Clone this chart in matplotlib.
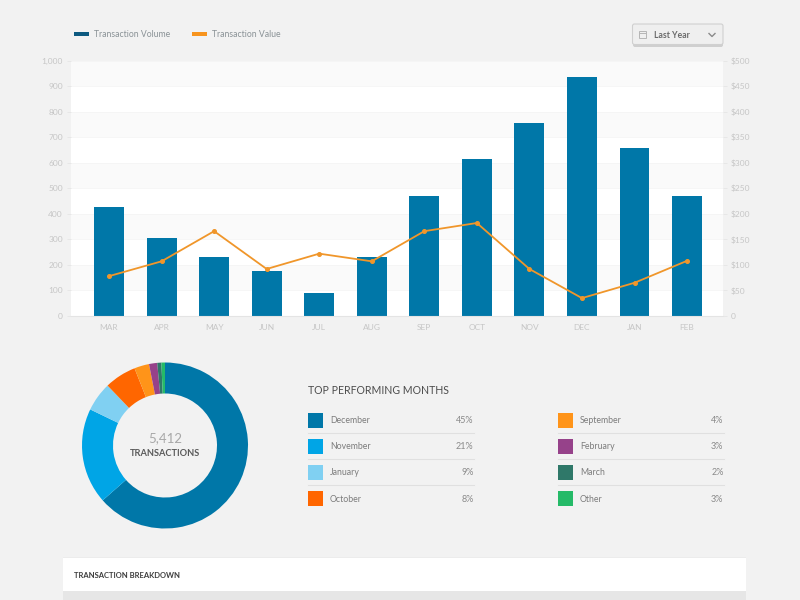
import matplotlib
matplotlib.use("Agg")
import matplotlib.pyplot as plt
from matplotlib.patches import FancyBboxPatch, Rectangle

plt.rcParams['font.family'] = ['Lato', 'DejaVu Sans']

months = ['MAR', 'APR', 'MAY', 'JUN', 'JUL', 'AUG', 'SEP', 'OCT', 'NOV', 'DEC', 'JAN', 'FEB']
volume = [425, 305, 232, 175, 90, 232, 470, 613, 755, 937, 657, 470]
value = [78, 107, 166, 92, 122, 107, 166, 182, 92, 35, 65, 108]
left_ticks = [0, 100, 200, 300, 400, 500, 600, 700, 800, 900, 1000]
right_ticks = [0, 50, 100, 150, 200, 250, 300, 350, 400, 450, 500]

donut_sizes = [63.7, 18.7, 5.7, 6.2, 2.9, 1.6, 0.8, 0.7]
donut_colors = ['#0077a8', '#00a5e6', '#80d0f2', '#ff6600', '#ff9419', '#96428a', '#2f7869', '#25ba68']

legend_col1 = [('December', '45%', '#0077a8'), ('November', '21%', '#00a5e6'),
               ('January', '9%', '#80d0f2'), ('October', '8%', '#ff6600')]
legend_col2 = [('September', '4%', '#ff9419'), ('February', '3%', '#96428a'),
               ('March', '2%', '#2f7869'), ('Other', '3%', '#25ba68')]

W, H = 800, 600
BG = '#f2f2f2'
fig = plt.figure(figsize=(8, 6), dpi=100, facecolor=BG)


def px_axes(x0, y0, x1, y1, **kw):
    return fig.add_axes([x0 / W, 1 - y1 / H, (x1 - x0) / W, (y1 - y0) / H], **kw)


# overlay in pixel coordinates for page furniture
ov = fig.add_axes([0, 0, 1, 1], zorder=5)
ov.set_xlim(0, W)
ov.set_ylim(H, 0)
ov.axis('off')
ov.patch.set_alpha(0)

# main chart
ax = px_axes(70.5, 60.5, 723, 316)
ax.set_xlim(-0.733, 11.684)
ax.set_ylim(0, 1000)
ax.set_facecolor('white')
for s in ['top', 'right', 'left']:
    ax.spines[s].set_visible(False)
ax.spines['bottom'].set_color('#e4e4e4')
for lo, hi in zip(left_ticks[1::2], left_ticks[2::2]):
    ax.axhspan(lo, hi, color='#fafafa', lw=0, zorder=0)
for t in left_ticks[1:]:
    ax.axhline(t, color='#f5f5f5', lw=0.6, zorder=0.5)
ax.bar(range(len(months)), volume, width=0.57, color='#0077a8', zorder=2)
ax.set_xticks(range(len(months)), months)
ax.set_yticks(left_ticks, [f'{t:,}' for t in left_ticks])
ax.tick_params(axis='x', length=0, labelsize=6, labelcolor='#c6c6c6', pad=6)
ax.tick_params(axis='y', length=3, width=0.6, color='#e6e6e6', labelsize=6, labelcolor='#c6c6c6', pad=2.5)

ax2 = ax.twinx()
ax2.set_ylim(0, 500)
for s in ax2.spines.values():
    s.set_visible(False)
ax2.plot(range(len(months)), value, color='#f0962a', lw=1.3, marker='o', ms=2.6, zorder=3)
ax2.set_yticks(right_ticks, ['0' if t == 0 else f'${t}' for t in right_ticks])
ax2.tick_params(axis='y', length=3, width=0.6, color='#e6e6e6', labelsize=6, labelcolor='#c6c6c6', pad=2.5)

# chart legend
for x0, color, label in [(74, '#0d5a80', 'Transaction Volume'), (192, '#f7941e', 'Transaction Value')]:
    ov.add_patch(Rectangle((x0, 32), 15, 4, color=color, lw=0))
    ov.text(x0 + 20, 34.3, label, fontsize=6.2, color='#8a9296', va='center', ha='left')

# dropdown
ov.add_patch(FancyBboxPatch((633, 26), 90, 21, boxstyle='round,pad=0,rounding_size=2', fc='#cfcfcf', ec='none'))
ov.add_patch(FancyBboxPatch((632.5, 24), 90.5, 20.5, boxstyle='round,pad=0,rounding_size=2', fc='#efefef', ec='#d0d0d0', lw=0.8))
ov.add_patch(Rectangle((638.5, 31), 7, 7, fc='none', ec='#b5b5b5', lw=0.7))
ov.plot([638.5, 645.5], [33, 33], color='#b5b5b5', lw=0.7)
ov.text(653.5, 35.3, 'Last Year', fontsize=6.2, fontweight='bold', color='#6a6a6a', va='center')
ov.plot([709, 712, 715], [33.5, 36.5, 33.5], color='#8a8a8a', lw=1)

# donut
dax = px_axes(80, 360.5, 250, 530.5)
dax.pie(donut_sizes, colors=donut_colors, startangle=90, counterclock=False, radius=1,
        wedgeprops=dict(width=31 / 83, lw=0))
dax.set_xlim(-85 / 83, 85 / 83)
dax.set_ylim(-85 / 83, 85 / 83)
dax.set_aspect('equal')
ov.text(165, 438, '5,412', fontsize=9.5, color='#a8a8a8', ha='center', va='center')
ov.text(165, 454, 'TRANSACTIONS', fontsize=6.7, color='#5a5a5a', ha='center', va='center', fontweight='bold')

# list
ov.text(308, 391, 'TOP PERFORMING MONTHS', fontsize=7.6, color='#4c4c4c', va='center')
for col, x0 in ((legend_col1, 308), (legend_col2, 558)):
    for i, (name, pct, color) in enumerate(col):
        y = 420 + i * 26.2
        ov.add_patch(Rectangle((x0, y - 7.5), 15, 15, color=color, lw=0))
        ov.text(x0 + 22, y + 0.5, name, fontsize=6.3, color='#7c7c7c', va='center')
        ov.text(x0 + 165.5, y + 0.5, pct, fontsize=6.5, color='#8a8a8a', va='center', ha='right')
        if i < 3:
            ov.plot([x0, x0 + 166], [y + 13, y + 13], color='#e0e0e0', lw=0.8)

# bottom card
ov.add_patch(Rectangle((63, 556.5), 683, 2, color='#ececec', lw=0))
ov.add_patch(Rectangle((63, 558), 683, 33, color='white', lw=0))
ov.add_patch(Rectangle((63, 591), 683, 9, color='#e6e6e6', lw=0))
ov.text(74, 575.5, 'TRANSACTION BREAKDOWN', fontsize=5.5, fontweight='bold', color='#3c3c3c', va='center')

fig.savefig('out.png', dpi=100, facecolor=BG)
